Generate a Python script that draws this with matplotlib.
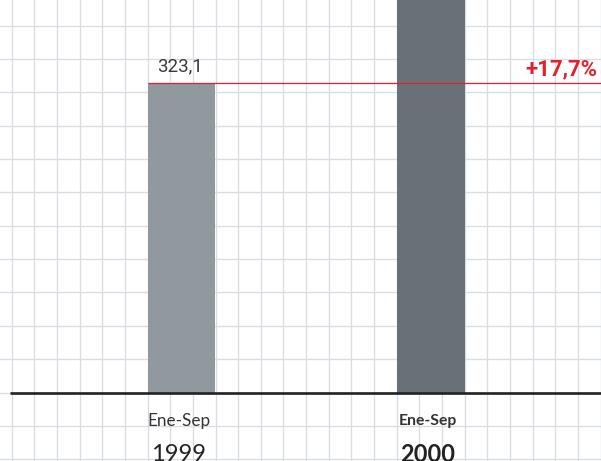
import numpy as np
import matplotlib.pyplot as plt

# Datos
periodos = ['Ene-Sep', 'Ene-Sep']
anios = ['1999', '2000']
valores = [323.1, 380.3]
etiqueta_valor = '323,1'
variacion = '+17,7%'

color_barras = ['#8f999e', '#677177']
color_rojo = '#e3202b'
color_grid = '#d9dce0'

fig = plt.figure(figsize=(6.01, 4.61), dpi=100)

# Fondo cuadriculado (en coordenadas de pixel)
fondo = fig.add_axes([0, 0, 1, 1])
fondo.set_xlim(0, 601)
fondo.set_ylim(461, 0)
fondo.axis('off')
for k in range(27):
    fondo.axvline(11.7 + 22.65 * k, color=color_grid, lw=0.95, zorder=0)
for k in range(-3, 13):
    fondo.axhline(392.5 - 33.35 * k, color=color_grid, lw=0.95, zorder=0)

# Ejes principales
ax = fig.add_axes([0, 0, 1, 1])
ax.patch.set_alpha(0)
ax.axis('off')
base = 200
px = (valores[0] - base) / 309.5  # unidades por pixel
ax.set_ylim(base - 68.5 * px, base + 392.5 * px)
ax.set_xlim(-0.7275, 1.6814)

x = np.arange(len(valores))
ancho = 0.2725
ax.bar(x, np.array(valores) - base, bottom=base, width=ancho,
       color=color_barras, zorder=2)

# Linea base y linea de referencia
ax.hlines(base, -0.687, 1.6814, color='#222222', lw=1.9, zorder=4)
ax.hlines(valores[0], -ancho / 2, 1.6814, color=color_rojo, lw=0.9, zorder=3)

ax.annotate(etiqueta_valor, (x[0], valores[0]), xytext=(-2, 8),
            textcoords='offset pixels', ha='center', va='bottom',
            fontsize=13.5, family='Roboto', fontweight='normal', color='#3a3a3a')
ax.annotate(variacion, (1.6814, valores[0]), xytext=(-3, 3),
            textcoords='offset pixels', ha='right', va='bottom',
            fontsize=16, family='Roboto', fontweight='bold', color=color_rojo)

for i in range(len(valores)):
    peso = 'normal' if i == 0 else 'bold'
    tam = 12.3 if i == 0 else 11.3
    ax.annotate(periodos[i], (x[i], base), xytext=(-3, -28),
                textcoords='offset pixels', ha='center', va='center',
                fontsize=tam, family='Lato', fontweight=peso, color='#333333')
    ax.annotate(anios[i], (x[i], base), xytext=(-3, -62),
                textcoords='offset pixels', ha='center', va='center',
                fontsize=17, family='Lato', fontweight=peso, color='#222222')

fig.savefig('out.png', dpi=100)
